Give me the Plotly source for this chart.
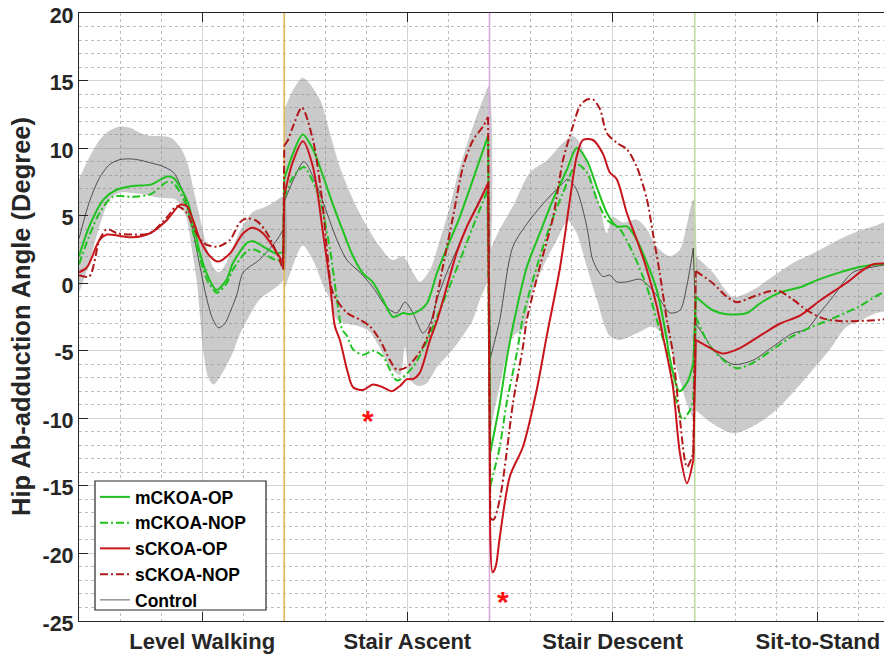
import plotly.graph_objects as go

# ---------------- data (x: 0-100 per task segment, concatenated) ----------------
SEGMENT_BOUNDS = [100, 200, 300]
TASK_TICKS = [60, 160, 260, 360]
TASK_LABELS = ["Level Walking", "Stair Ascent", "Stair Descent", "Sit-to-Stand"]
Y_TICKS = [-25, -20, -15, -10, -5, 0, 5, 10, 15, 20]
Y_TICK_LABELS = ["-25", "-20", "-15", "-10", "-5", "0", "5", "10", "15", "20"]

mckoa_op_x = [0, 5, 12, 18, 26, 35, 40, 43, 46, 49, 53, 56, 59, 62, 67, 72, 75, 82, 85, 92, 96, 99.5,
              100, 104, 109, 114, 119, 124, 129, 133.5, 138.5, 143, 148, 153, 158, 161, 166, 169.5, 174.5, 179.5, 185.5, 192, 199.3,
              200.4, 205, 208.3, 211.4, 218.2, 224.5, 231, 237.7, 242.5, 247.4, 252.3, 257.2, 262, 267, 271.8, 276.7, 281.5, 285, 288.5, 292.5, 296.5, 299.3,
              300.5, 308.8, 315.6, 325.4, 331.7, 341.4, 351.2, 360.9, 370.7, 380.4, 390.2, 400]
mckoa_op_y = [2.0, 4.2, 6.2, 6.9, 7.2, 7.3, 7.7, 7.9, 7.8, 7.2, 6.0, 4.2, 2.2, 0.8, -0.5, 0.3, 1.5, 3.0, 3.1, 2.5, 2.2, 2.3,
              7.7, 9.5, 11.0, 9.9, 7.9, 5.7, 3.7, 2.0, 0.7, 0.1, -1.2, -2.5, -2.2, -2.3, -2.0, -1.5, 0.8, 2.7, 4.9, 7.7, 10.9,
              -12.5, -8.9, -5.7, -3.2, 1.2, 3.7, 6.2, 8.4, 10.0, 9.1, 7.1, 5.2, 4.2, 4.2, 3.2, 1.5, -0.5, -3.0, -6.0, -8.0, -7.3, -5.9,
              -1.0, -2.0, -2.3, -2.2, -1.5, -0.7, -0.3, 0.3, 0.8, 1.2, 1.4, 1.4]

mckoa_nop_x = [0, 5, 10, 16.5, 26, 35, 43, 46, 49, 52.6, 55.5, 59, 62.3, 67.2, 72, 75, 82, 85, 92, 96.4, 99.5,
               100, 104, 109.6, 114, 117.4, 122.3, 125.7, 128.1, 130.6, 133.5, 138.4, 143.2, 148, 151.5, 155, 162.7, 167.6, 172.5, 179.3, 185.6, 192, 199,
               200.4, 205, 208.3, 213.4, 216.3, 223, 229.4, 235.8, 242.5, 247.4, 252.3, 257.2, 263.5, 270, 276.7, 281.5, 286.4, 291.3, 294.2, 297.6, 299.3,
               300.5, 305, 308.8, 315.6, 320.5, 328.3, 338, 347.8, 357.5, 367.3, 380.4, 390.2, 400]
mckoa_nop_y = [1.4, 3.5, 5.2, 6.4, 6.4, 6.6, 7.5, 7.4, 6.8, 5.6, 3.8, 1.8, 0.3, -0.7, 0.0, 1.0, 2.4, 2.5, 2.0, 1.7, 1.8,
               6.3, 7.8, 8.6, 7.5, 6.2, 2.5, -1.2, -3.4, -3.9, -4.9, -5.3, -5.0, -5.4, -6.4, -7.2, -6.2, -4.9, -3.2, -0.7, 1.7, 4.2, 6.9,
               -15.0, -12.1, -8.9, -5.1, -2.5, 1.2, 4.2, 6.7, 8.8, 8.2, 6.2, 4.7, 4.0, 2.2, -0.3, -2.7, -5.1, -8.9, -10.1, -9.4, -8.6,
               -2.5, -4.0, -4.9, -5.9, -6.3, -5.9, -4.9, -3.9, -3.2, -2.6, -1.7, -0.8, -0.3]

sckoa_op_x = [0, 4, 10, 13.6, 20, 26.3, 34.6, 43, 49.2, 52.6, 55.5, 59, 63.8, 67.7, 73.5, 80, 84.7, 89.6, 94.5, 99.5,
              100, 104, 109.1, 114, 118.9, 122.3, 124.7, 127.1, 130.6, 133.5, 138.4, 143.2, 148, 152.4, 156.4, 159.8, 162.7, 166.1, 171, 174.4, 179.3, 184.1, 189, 194, 199.3,
              200.3, 201.5, 203, 205, 209.9, 216.3, 223, 227.9, 234.4, 239.2, 242.5, 245.5, 250.4, 255.2, 258.6, 262, 266.9, 271.8, 276.7, 281.5, 284.5, 289.3, 292.8, 296.2, 299.3,
              300.5, 308.8, 313.7, 322, 331.7, 341.4, 351.2, 360.9, 370.7, 375.5, 380.4, 387, 400]
sckoa_op_y = [0.8, 1.2, 3.2, 3.6, 3.5, 3.4, 3.7, 4.7, 5.8, 5.7, 4.7, 3.2, 2.0, 1.6, 2.2, 3.7, 4.1, 3.7, 2.7, 1.5,
              6.5, 8.9, 10.5, 8.6, 3.7, 0.0, -3.2, -4.2, -6.4, -7.7, -7.9, -7.5, -7.7, -8.0, -7.6, -7.1, -7.1, -6.6, -4.2, -2.8, -0.2, 2.3, 4.2, 5.7, 7.4,
              -18.0, -21.4, -21.0, -18.8, -14.3, -12.1, -7.9, -3.9, 1.2, 6.2, 9.4, 10.6, 10.6, 9.6, 8.2, 7.7, 5.2, 3.2, 1.0, -1.7, -3.9, -7.6, -12.6, -14.8, -13.1,
              -4.2, -4.9, -5.2, -4.8, -3.9, -3.0, -2.4, -1.3, -0.3, 0.2, 0.8, 1.4, 1.4]

sckoa_nop_x = [0, 5, 10, 13.6, 18.5, 26, 34.6, 43, 47.7, 52.6, 55.5, 60.4, 67.2, 73.5, 78.4, 81.8, 86.7, 91.6, 96.4, 99.5,
               100, 101.5, 104, 108.6, 114, 118.4, 120.8, 123.7, 130.6, 136.9, 141.8, 146.6, 151.5, 154.9, 159.8, 164.6, 167.6, 171, 177.4, 182.2, 187.1, 192, 196.8, 199.3,
               200.4, 202, 205, 208.3, 211.4, 216.3, 218.2, 224.5, 231, 235.8, 240.6, 244, 247.4, 250.4, 253.8, 257.2, 262, 267, 271.8, 276.7, 279.6, 283, 286.4, 289.3, 292.8, 296.2, 299.3,
               300.5, 308.8, 315.6, 320.5, 328.3, 336.6, 341.4, 347.8, 354.6, 362.4, 370.7, 380.4, 390.2, 400]
sckoa_nop_y = [0.6, 0.5, 3.2, 4.0, 3.7, 3.6, 3.7, 4.9, 5.7, 5.2, 4.2, 3.0, 2.7, 3.2, 4.5, 4.8, 4.6, 3.7, 2.2, 1.0,
               10.2, 10.5, 11.5, 13.0, 10.6, 6.2, 2.5, -0.7, -2.2, -2.7, -3.2, -4.2, -5.7, -6.4, -6.2, -5.4, -4.7, -3.4, 1.3, 4.9, 8.6, 10.6, 11.6, 12.3,
               -17.4, -17.5, -16.0, -12.6, -8.9, -4.7, -2.7, 1.2, 4.9, 9.1, 11.6, 13.1, 13.6, 13.6, 12.9, 11.1, 10.4, 9.9, 8.6, 6.2, 3.7, 0.7, -2.7, -5.1, -10.1, -13.6, -12.6,
               0.9, 0.0, -1.0, -1.4, -1.0, -0.6, -0.6, -1.2, -2.0, -2.6, -2.8, -2.8, -2.7, -2.5]

control_x = [0, 5, 10, 15, 20, 25, 30, 35, 40, 46, 50, 53, 56, 59, 62, 65, 68, 71, 74, 77, 80, 88, 96.4, 99.5,
             100, 104, 109.6, 115.9, 120.8, 125.7, 130.6, 136.9, 143.2, 150, 154.9, 158.8, 162.7, 165, 167.6, 171, 174.4, 179.3, 185.6, 192, 199,
             200.5, 205, 211.4, 219.7, 228, 234.4, 238.2, 242.5, 247.4, 250.4, 255.2, 258.6, 262, 267, 273.3, 278.2, 283, 287.9, 292.8, 296, 299.3,
             300.5, 305, 308.8, 318.6, 328.3, 338, 347.8, 354.5, 360.9, 367.3, 377, 386.8, 400]
control_y = [3.3, 6.0, 7.8, 8.8, 9.15, 9.2, 9.1, 8.9, 8.7, 8.2, 7.0, 5.5, 3.5, 1.2, -1.0, -2.6, -3.3, -3.0, -2.0, -0.8, 0.8, 1.75, 3.2, 4.0,
             6.0, 7.5, 9.0, 7.2, 5.2, 3.2, 1.7, 0.8, -0.3, -1.8, -2.2, -1.4, -2.2, -3.0, -3.7, -3.0, -1.2, 0.8, 3.0, 5.2, 7.2,
             -5.5, -2.7, 2.7, 4.7, 6.2, 7.2, 7.7, 6.9, 4.2, 1.7, 0.5, 0.6, 0.1, 0.1, 0.3, -0.3, -1.2, -2.2, -2.0, -0.3, 2.6,
             -3.0, -4.0, -4.9, -6.0, -5.7, -4.7, -3.7, -3.4, -2.2, -1.0, 0.8, 1.2, 1.5]

# Control +/- SD band, one polygon per task segment (upper edge, lower edge)
band_upper_x = [
    [0, 5, 10, 15, 20, 25, 30, 35, 40, 45, 50, 53, 56, 59, 62, 65, 68, 71, 75, 80, 85, 90, 95, 99.7],
    [100, 104, 109, 117.4, 122.3, 127.1, 133.5, 140.3, 146.6, 152.9, 157.8, 162.7, 166.1, 171, 175.8, 180.7, 185.6, 191.9, 196.8, 199.7],
    [200.4, 205, 211.4, 219.7, 228, 235.8, 240.6, 244, 248.9, 253.8, 257.2, 260.1, 265, 271.8, 276.7, 281.5, 287.9, 292.8, 299.3],
    [300.5, 308.8, 318.6, 328.3, 338, 347.8, 357.5, 367.3, 377, 386.8, 400],
]
band_upper_y = [
    [7.7, 9.3, 10.6, 11.3, 11.6, 11.5, 11.1, 10.9, 10.9, 10.75, 9.9, 8.8, 6.8, 4.8, 2.8, 1.3, 0.8, 1.3, 2.7, 4.3, 5.3, 5.6, 6.0, 6.4],
    [12.8, 14.2, 15.2, 13.6, 11.1, 8.6, 6.2, 4.2, 2.7, 1.7, 2.0, 0.8, 0.1, 1.0, 3.2, 5.7, 8.6, 11.6, 13.6, 14.6],
    [2.5, 4.0, 5.7, 8.2, 9.1, 10.4, 10.9, 10.4, 8.2, 5.7, 3.7, 4.9, 4.5, 4.7, 4.0, 2.7, 2.0, 2.5, 6.2],
    [2.0, 0.8, -1.0, -0.5, 0.5, 1.5, 2.2, 3.0, 3.7, 4.2, 4.7],
]
band_lower_x = [
    [0, 5, 9, 15, 20, 30, 40, 47, 52, 55, 57.5, 59, 60.5, 63, 65.5, 70, 75, 78, 82, 88, 96, 99.7],
    [100, 103, 109, 114, 118.5, 122.3, 125.7, 130.5, 136.9, 141.7, 146.6, 151.5, 156.4, 158.8, 161.2, 163.5, 166.1, 169.5, 174.4, 179.3, 185.6, 191.9, 195.3, 199.7],
    [200.4, 205, 211.4, 216.3, 219.7, 226, 232.8, 238.2, 242.5, 247.4, 252.3, 256.2, 258.6, 263.5, 271.8, 279.6, 286.4, 291.3, 296.2, 299.3],
    [300.5, 308.8, 318.6, 328.3, 338, 347.8, 357.5, 365.8, 374.1, 380.4, 386.8, 400],
]
band_lower_y = [
    [-0.7, 1.5, 3.7, 6.2, 6.7, 6.6, 6.3, 6.2, 5.0, 2.5, 0.0, -2.5, -5.0, -7.0, -7.5, -6.6, -5.1, -3.9, -2.7, -1.2, -0.3, 0.3],
    [-0.5, 0.8, 2.8, 1.7, 0.0, -1.2, -2.7, -3.0, -3.2, -3.6, -4.8, -6.2, -6.8, -4.7, -7.0, -7.5, -7.6, -7.4, -6.2, -5.4, -4.2, -2.7, -1.2, 0.5],
    [-10.9, -7.6, -3.9, -3.4, -1.2, 1.2, 3.2, 4.6, 3.7, 1.2, -1.2, -3.2, -3.9, -4.2, -3.7, -3.2, -4.2, -6.4, -8.9, -9.9],
    [-9.4, -10.4, -11.1, -10.6, -9.6, -8.1, -6.4, -4.9, -3.2, -2.8, -2.3, -1.5],
]

# significance markers (x, y)
star_x = [141, 206.5]
star_y = [-10.0, -23.4]

# ---------------- styling ----------------
GREEN = "#1FC21F"
RED = "#C8141C"
RED_D = "#B01818"
TXT = "#262626"
FONT = "Liberation Sans"
BOUND_COLORS = ["#E2B850", "#D9A9D9", "#BBDC9C"]

# The page body adds an 8px offset; margins below place the axes box at the
# reference position (left 79, top 13, bottom 621), with the right side cut at the window edge.
PLOT_L, PLOT_T, PLOT_B, PAGE_OFF = 79, 13, 621, 8
FIG_W, FIG_H = 892, 657
PLOT_W = FIG_W + PAGE_OFF - PLOT_L
PLOT_H = PLOT_B - PLOT_T
# legend box (page px): left, right, top, bottom
LEG_L, LEG_R, LEG_T, LEG_B = 95, 266, 481, 610


def split_segments(xs, ys):
    """Insert gaps between task segments; return (x, y) with None gaps and connector (x, y)."""
    sx, sy, cx, cy = [], [], [], []
    for i, (x, y) in enumerate(zip(xs, ys)):
        if i > 0:
            prev = xs[i - 1]
            if any(prev < b <= x for b in SEGMENT_BOUNDS):
                sx.append(None)
                sy.append(None)
                cx += [prev, x, None]
                cy += [ys[i - 1], y, None]
        sx.append(x)
        sy.append(y)
    return sx, sy, cx, cy


fig = go.Figure()

# band
for ux, uy, lx, ly in zip(band_upper_x, band_upper_y, band_lower_x, band_lower_y):
    fig.add_trace(go.Scatter(
        x=ux + lx[::-1], y=uy + ly[::-1], fill="toself",
        fillcolor="rgba(128,128,128,0.42)", line=dict(width=0, shape="spline", smoothing=0.8),
        mode="lines", showlegend=False, hoverinfo="skip"))

# task boundary lines
for b, c in zip(SEGMENT_BOUNDS, BOUND_COLORS):
    fig.add_trace(go.Scatter(x=[b, b], y=[Y_TICKS[0], Y_TICKS[-1]], mode="lines",
                             line=dict(color=c, width=1.6), showlegend=False, hoverinfo="skip"))

series = [
    ("mCKOA-OP", mckoa_op_x, mckoa_op_y, GREEN, "solid", 2.0),
    ("mCKOA-NOP", mckoa_nop_x, mckoa_nop_y, GREEN, "8px,3px,2px,3px", 2.0),
    ("sCKOA-OP", sckoa_op_x, sckoa_op_y, RED, "solid", 2.0),
    ("sCKOA-NOP", sckoa_nop_x, sckoa_nop_y, RED_D, "8px,3px,2px,3px", 2.0),
    ("Control", control_x, control_y, "#1a1a1a", "solid", 0.7),
]

order = [4, 0, 1, 2, 3]
for idx in order:
    name, xs, ys, col, dash, w = series[idx]
    sx, sy, cx, cy = split_segments(xs, ys)
    fig.add_trace(go.Scatter(x=cx, y=cy, mode="lines", line=dict(color=col, width=w, dash=dash),
                             showlegend=False, hoverinfo="skip", connectgaps=False))
    fig.add_trace(go.Scatter(x=sx, y=sy, mode="lines", name=name,
                             line=dict(color=col, width=w, dash=dash, shape="spline", smoothing=0.8),
                             connectgaps=False, legendrank=idx + 1))

for sxv, syv in zip(star_x, star_y):
    fig.add_annotation(x=sxv, y=syv, text="*", showarrow=False, yshift=-2,
                       font=dict(family=FONT, size=30, color="#FF1010", weight="bold"))

fig.add_annotation(x=0, xref="paper", y=0.5, yref="paper", xshift=-58, text="Hip Ab-adduction Angle (Degree)",
                   textangle=-90, showarrow=False, xanchor="center", yanchor="middle",
                   font=dict(family=FONT, size=25.5, color=TXT, weight="bold"))

# legend frame (white box with dark border), legend entries drawn on top of it
fig.add_shape(type="rect", xref="paper", yref="paper", layer="above",
              x0=(LEG_L - PLOT_L) / PLOT_W, x1=(LEG_R - PLOT_L) / PLOT_W,
              y0=(PLOT_B - LEG_B) / PLOT_H, y1=(PLOT_B - LEG_T) / PLOT_H,
              fillcolor="white", line=dict(color=TXT, width=1.2))

axis_common = dict(showline=True, linecolor=TXT, linewidth=1.3, mirror="ticks", ticks="inside",
                   ticklen=9, tickcolor=TXT, tickwidth=1, showgrid=True, gridcolor="#D4D4D4", gridwidth=1,
                   zeroline=False, ticklabeloverflow="allow")

fig.update_layout(
    width=FIG_W, height=FIG_H, paper_bgcolor="white", plot_bgcolor="white",
    margin=dict(l=PLOT_L - PAGE_OFF, r=0, t=PLOT_T - PAGE_OFF, b=FIG_H + PAGE_OFF - PLOT_B, autoexpand=False),
    xaxis=dict(range=[0, 400], tickmode="array", tickvals=TASK_TICKS, ticktext=TASK_LABELS,
               minor=dict(dtick=20, tick0=0, showgrid=True, gridcolor="#BDBDBD", griddash="dot", ticks=""),
               tickfont=dict(family=FONT, size=22, color=TXT, weight="bold"),
               **axis_common),
    yaxis=dict(range=[-25, 20], tickmode="array", tickvals=Y_TICKS, ticktext=Y_TICK_LABELS,
               minor=dict(dtick=1, tick0=0, showgrid=True, gridcolor="#BDBDBD", griddash="dot", ticks=""),
               tickfont=dict(family=FONT, size=21.5, color=TXT, weight="bold"), ticklabelshift=2,
               **axis_common),
    legend=dict(x=(LEG_L - PLOT_L) / PLOT_W, y=(PLOT_B - 618) / PLOT_H, xanchor="left", yanchor="bottom",
                bgcolor="rgba(0,0,0,0)", borderwidth=0, tracegroupgap=0, itemwidth=30,
                font=dict(family=FONT, size=17.5, color="black", weight="bold")),
    showlegend=True,
)

fig.write_html("out.html")
